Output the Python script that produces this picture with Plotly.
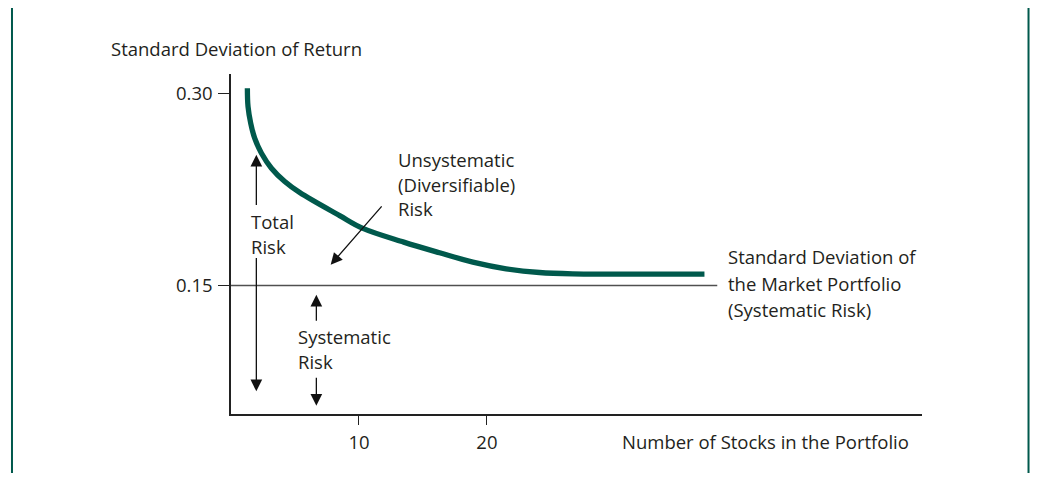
import plotly.graph_objects as go

# portfolio risk vs number of stocks
n_stocks = [1.28, 1.33, 1.54, 1.85, 2.38, 3.16, 4.20, 5.37, 8.49, 10.31, 13.5, 16.3,
            18.9, 21.5, 24.1, 26.7, 37.0]
std_dev = [0.3039, 0.2896, 0.2766, 0.2649, 0.2532, 0.2415, 0.2311, 0.2225, 0.2045, 0.1945,
           0.1838, 0.1755, 0.1682, 0.1630, 0.1601, 0.1591, 0.1589]
market_sd = 0.15
market_line_n = [0, 38]
x_ticks = [10, 20]
y_ticks = [0.15, 0.30]
y_tick_text = ["0.15", "0.30"]

GREEN = "#00594C"
TXT = "#231F20"
FONT = "Open Sans"
FS = 18.5

fig = go.Figure()

fig.add_trace(go.Scatter(x=market_line_n, y=[market_sd, market_sd], mode="lines",
                         line=dict(color="#505050", width=1.5), hoverinfo="skip"))
fig.add_trace(go.Scatter(x=n_stocks, y=std_dev, mode="lines", line_shape="spline",
                         line=dict(color=GREEN, width=5.3, smoothing=1.0)))

# multi-line labels with fixed line spacing
def label(lines, x, y, gap=24.5, ref="x"):
    for i, t in enumerate(lines):
        fig.add_annotation(x=x, y=y, xref=ref, yref=ref.replace("x", "y"), text=t,
                           showarrow=False, xanchor="left", yanchor="middle",
                           yshift=-i * gap, font=dict(size=FS, color=TXT, family=FONT))

label(["Unsystematic", "(Diversifiable)", "Risk"], 12.9, 0.248)
label(["Total", "Risk"], 1.4, 0.1999, gap=25)
label(["Systematic", "Risk"], 5.1, 0.1098)
label(["Standard Deviation of", "the Market Portfolio", "(Systematic Risk)"], 38.7, 0.1726, gap=26.5)
label(["Number of Stocks in the Portfolio"], 0.563, -0.0806, ref="paper")
label(["Standard Deviation of Return"], -0.176, 1.0744, ref="paper")

def arrow(x, y, ax, ay):
    fig.add_annotation(x=x, y=y, ax=ax, ay=ay, axref="x", ayref="y", text="",
                       showarrow=True, arrowhead=2, arrowsize=1.8, arrowwidth=1.3,
                       arrowcolor="#111")

arrow(1.98, 0.2519, 1.98, 0.2116)
arrow(1.98, 0.0674, 1.98, 0.1726)
arrow(7.79, 0.1661, 11.875, 0.2129)
arrow(6.67, 0.1427, 6.67, 0.1212)
arrow(6.67, 0.0562, 6.67, 0.0791)

# green frame sides (page body adds an 8px margin, header strip falls outside)
fig.add_shape(type="rect", xref="paper", yref="paper", x0=-0.3184, x1=-0.3155, y0=-0.3, y1=1.3,
              fillcolor=GREEN, line_width=0)
fig.add_shape(type="rect", xref="paper", yref="paper", x0=1.1527, x1=1.1556, y0=-0.3, y1=1.3,
              fillcolor=GREEN, line_width=0)

fig.update_xaxes(range=[0, 54], tickvals=x_ticks, ticks="outside", ticklen=9, tickwidth=1.2,
                 tickcolor="#222", showline=True, linecolor="#222", linewidth=1.5,
                 showgrid=False, zeroline=False, ticklabelstandoff=2,
                 tickfont=dict(size=FS, color=TXT, family=FONT))
fig.update_yaxes(range=[0.0497, 0.315], tickvals=y_ticks, ticktext=y_tick_text, ticks="outside",
                 ticklen=11, tickwidth=1.2, tickcolor="#222", showline=True, linecolor="#222",
                 linewidth=1.5, showgrid=False, zeroline=False, ticklabelstandoff=2,
                 tickfont=dict(size=FS, color=TXT, family=FONT))

fig.update_layout(width=1022, height=465, autosize=False, showlegend=False,
                  margin=dict(l=223, r=108, t=66, b=59),
                  plot_bgcolor="white", paper_bgcolor="white",
                  font=dict(family=FONT, color=TXT))

fig.write_html("out.html")
